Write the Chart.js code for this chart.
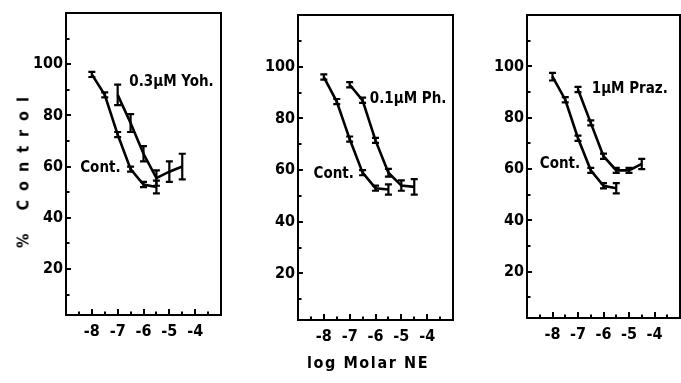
<!DOCTYPE html>
<html>
<head>
<meta charset="utf-8">
<script src="https://cdn.jsdelivr.net/npm/chart.js@4.4.1/dist/chart.umd.min.js"></script>
<style>
  html, body { margin: 0; padding: 0; background: #fff; }
  #wrap { position: relative; width: 681px; height: 383px; overflow: hidden; background: #fff; }
  canvas { position: absolute; top: 0; }
  .t { position: absolute; font: bold 16px "Liberation Sans Narrow", "DejaVu Sans Condensed", sans-serif; color: #000; white-space: nowrap; }
</style>
</head>
<body>
<div id="wrap">
  <canvas id="c1" width="230" height="383" style="left:0px"></canvas>
  <canvas id="c2" width="230" height="383" style="left:230px"></canvas>
  <canvas id="c3" width="221" height="383" style="left:460px"></canvas>
  <div class="t" id="ytitle" style="left:23px; top:168px; letter-spacing:9px; transform: translate(-50%,-50%) rotate(-90deg);">% Control</div>
  <div class="t" id="xtitle" style="left:368px; top:362px; letter-spacing:1.6px; transform: translate(-50%,-50%);">log Molar NE</div>
</div>
<script>
// ---- data ----
const xControl = [-8, -7.5, -7, -6.5, -6, -5.5];
const xDrug = [-7, -6.5, -6, -5.5, -5, -4.5];

const control1 = [96, 88, 72.5, 59, 53, 52];
const control1Err = [1, 1, 1, 1, 1, 2.5];
const yoh = [88, 77, 65, 55.5, 58, 60];
const yohErr = [4, 3.5, 3, 3, 4, 5];

const control2 = [96, 86.5, 72, 59, 53, 52.5];
const control2Err = [1, 1, 1, 1, 1, 2];
const ph = [93, 87, 71.5, 59, 54, 53.5];
const phErr = [1, 1, 1, 1.5, 2, 3];

const control3 = [96, 87, 72, 59.5, 53.5, 52.5];
const control3Err = [1.5, 1, 1, 1, 1, 2];
const praz = [91, 78, 65, 59.5, 59.5, 62];
const prazErr = [1, 1, 1, 1, 1, 2];

const xTickLabels = [-8, -7, -6, -5, -4];
const yTickLabels = [20, 40, 60, 80, 100];
const xTickMarks = [-8.5, -8, -7.5, -7, -6.5, -6, -5.5, -5, -4.5, -4, -3.5];
const yTickMarks = [10, 20, 30, 40, 50, 60, 70, 80, 90, 100, 110];

const panels = [
  { id: 'c1', left: 66, top: 13, right: 9, bottom: 315,
    control: control1, controlErr: control1Err, drug: yoh, drugErr: yohErr,
    labels: [{ text: '0.3\u03bcM Yoh.', x: -6.55, y: 93 }, { text: 'Cont.', x: -8.45, y: 59.5 }] },
  { id: 'c2', left: 68, top: 15, right: 7, bottom: 320,
    control: control2, controlErr: control2Err, drug: ph, drugErr: phErr,
    labels: [{ text: '0.1\u03bcM Ph.', x: -6.22, y: 87.5 }, { text: 'Cont.', x: -8.4, y: 58.4 }] },
  { id: 'c3', left: 67, top: 15, right: 1, bottom: 318,
    control: control3, controlErr: control3Err, drug: praz, drugErr: prazErr,
    labels: [{ text: '1\u03bcM Praz.', x: -6.46, y: 91 }, { text: 'Cont.', x: -8.5, y: 62 }] }
];

const FONT = '"Liberation Sans Narrow", "DejaVu Sans Condensed", sans-serif';

const framePlugin = {
  id: 'frame',
  afterDatasetsDraw(chart, args, opts) {
    const ctx = chart.ctx;
    const a = chart.chartArea;
    const xs = chart.scales.x, ys = chart.scales.y;
    ctx.save();
    ctx.strokeStyle = '#000';
    ctx.lineWidth = 2;
    ctx.strokeRect(a.left, a.top, a.right - a.left, a.bottom - a.top);
    // inward tick marks
    ctx.beginPath();
    xTickMarks.forEach(v => {
      const px = Math.round(xs.getPixelForValue(v));
      const len = Number.isInteger(v) ? 6 : 3.5;
      ctx.moveTo(px, a.bottom);
      ctx.lineTo(px, a.bottom - len);
    });
    yTickMarks.forEach(v => {
      const py = Math.round(ys.getPixelForValue(v));
      const len = (v % 20 === 0) ? 5 : 3.5;
      ctx.moveTo(a.left, py);
      ctx.lineTo(a.left + len, py);
    });
    ctx.stroke();
    // error bars
    ctx.lineWidth = 2.2;
    chart.data.datasets.forEach((ds, i) => {
      const meta = chart.getDatasetMeta(i);
      ctx.beginPath();
      ds.data.forEach((pt, j) => {
        const e = ds.errors[j];
        const px = meta.data[j].x;
        const y1 = ys.getPixelForValue(pt.y + e);
        const y2 = ys.getPixelForValue(pt.y - e);
        ctx.moveTo(px, y1); ctx.lineTo(px, y2);
        ctx.moveTo(px - 3.5, y1); ctx.lineTo(px + 3.5, y1);
        ctx.moveTo(px - 3.5, y2); ctx.lineTo(px + 3.5, y2);
      });
      ctx.stroke();
    });
    // annotations
    ctx.fillStyle = '#000';
    ctx.font = 'bold 15px ' + FONT;
    ctx.textAlign = 'left';
    ctx.textBaseline = 'middle';
    (opts.labels || []).forEach(l => {
      ctx.fillText(l.text, xs.getPixelForValue(l.x), ys.getPixelForValue(l.y));
    });
    ctx.restore();
  }
};

panels.forEach(p => {
  const canvas = document.getElementById(p.id);
  const H = canvas.height;
  new Chart(canvas, {
    type: 'line',
    data: {
      datasets: [
        { label: 'Cont.', data: xControl.map((x, i) => ({ x, y: p.control[i] })), errors: p.controlErr },
        { label: 'Drug', data: xDrug.map((x, i) => ({ x, y: p.drug[i] })), errors: p.drugErr }
      ]
    },
    options: {
      responsive: false,
      animation: false,
      devicePixelRatio: 1,
      layout: { padding: { top: p.top, right: p.right, left: 0, bottom: 0 } },
      elements: {
        line: { borderColor: '#000', borderWidth: 2.6, tension: 0 },
        point: { radius: 0, hoverRadius: 0 }
      },
      plugins: {
        legend: { display: false },
        tooltip: { enabled: false },
        frame: { labels: p.labels }
      },
      scales: {
        x: {
          type: 'linear', min: -9, max: -3,
          grid: { display: false, drawTicks: false },
          border: { display: false },
          afterFit: s => { s.height = H - p.bottom; },
          afterBuildTicks: s => { s.ticks = xTickLabels.map(v => ({ value: v })); },
          ticks: {
            padding: 7, color: '#000', maxRotation: 0, autoSkip: false,
            font: { family: FONT, size: 16, weight: 'bold' },
            callback: v => String(v)
          }
        },
        y: {
          type: 'linear', min: 2, max: 120,
          grid: { display: false, drawTicks: false },
          border: { display: false },
          afterFit: s => { s.width = p.left; },
          afterBuildTicks: s => { s.ticks = yTickLabels.map(v => ({ value: v })); },
          ticks: {
            padding: 3, color: '#000', autoSkip: false,
            font: { family: FONT, size: 16, weight: 'bold' },
            callback: v => String(v)
          }
        }
      }
    },
    plugins: [framePlugin]
  });
});
</script>
</body>
</html>
